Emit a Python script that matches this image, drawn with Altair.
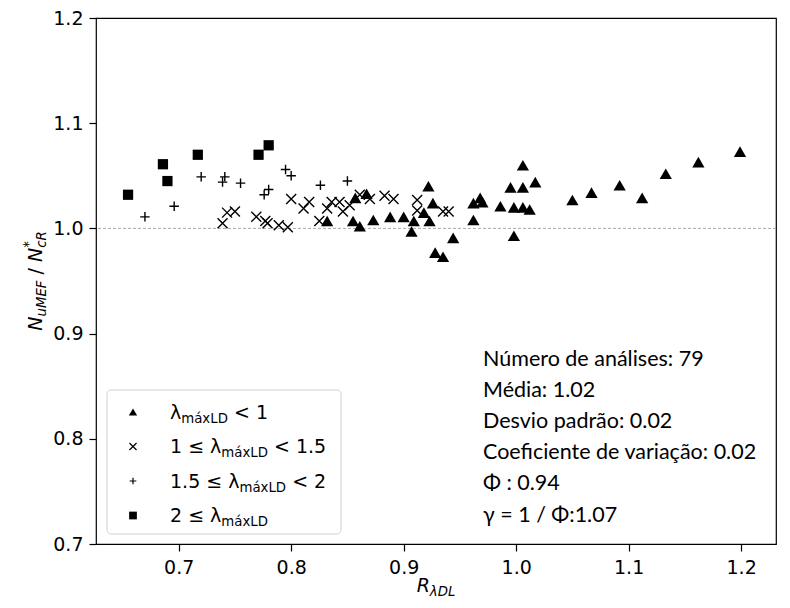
import altair as alt
import pandas as pd

# ---------------- data ----------------
tri_x = [0.832, 0.855, 0.861, 0.857, 0.867, 0.873, 0.888, 0.900, 0.909, 0.907, 0.918, 0.922,
         0.926, 0.923, 0.928, 0.935, 0.944, 0.962, 0.962, 0.968, 0.970, 0.986, 0.995, 0.998,
         0.998, 1.006, 1.006, 1.006, 1.012, 1.017, 1.050, 1.067, 1.092, 1.112, 1.133, 1.162, 1.199]
tri_y = [1.007, 1.007, 1.002, 1.029, 1.033, 1.008, 1.011, 1.011, 1.007, 0.997, 1.015, 1.040,
         1.024, 1.007, 0.977, 0.973, 0.991, 1.008, 1.024, 1.029, 1.025, 1.021, 1.039, 1.020,
         0.993, 1.060, 1.039, 1.020, 1.018, 1.044, 1.027, 1.034, 1.041, 1.029, 1.052, 1.063, 1.073]

crs_x = [0.739, 0.743, 0.750, 0.769, 0.777, 0.779, 0.789, 0.797, 0.800, 0.811, 0.816, 0.825,
         0.832, 0.836, 0.843, 0.846, 0.852, 0.861, 0.870, 0.883, 0.891, 0.912, 0.912, 0.935, 0.940]
crs_y = [1.005, 1.015, 1.016, 1.011, 1.007, 1.005, 1.003, 1.001, 1.028, 1.019, 1.025, 1.007,
         1.019, 1.025, 1.025, 1.016, 1.022, 1.032, 1.028, 1.031, 1.028, 1.027, 1.017, 1.016, 1.016]

pls_x = [0.670, 0.696, 0.720, 0.739, 0.741, 0.755, 0.776, 0.780, 0.795, 0.800, 0.826, 0.850]
pls_y = [1.011, 1.021, 1.049, 1.044, 1.049, 1.043, 1.032, 1.037, 1.056, 1.050, 1.041, 1.045]

sq_x = [0.655, 0.686, 0.690, 0.717, 0.771, 0.780]
sq_y = [1.032, 1.061, 1.045, 1.070, 1.070, 1.079]

x_ticks = [0.7, 0.8, 0.9, 1.0, 1.1, 1.2]
y_ticks = [0.7, 0.8, 0.9, 1.0, 1.1, 1.2]
ref_line = [1.0]

legend_rows = [
    [("λ", "m"), ("máxLD", "s"), (" < 1", "m")],
    [("1 ≤ λ", "m"), ("máxLD", "s"), (" < 1.5", "m")],
    [("1.5 ≤ λ", "m"), ("máxLD", "s"), (" < 2", "m")],
    [("2 ≤ λ", "m"), ("máxLD", "s")],
]
stats_lines = [
    "Número de análises: 79",
    "Média: 1.02",
    "Desvio padrão: 0.02",
    "Coeficiente de variação: 0.02",
    "Φ : 0.94",
    "γ = 1 / Φ:1.07",
]

# ---------------- layout ----------------
W, H = 680, 526
PL, PT = 96, 18
XDOM = [0.6265, 1.231]
YDOM = [0.7, 1.2]
FONT = "DejaVu Sans"
FS = 19
FSS = 13.3

CROSS = "M-1,-1L1,1M-1,1L1,-1"
PLUS = "M-1,0L1,0M0,-1L0,1"

# DejaVu Sans advance widths (em)
CW = {"0": .636, "1": .636, "2": .636, "5": .636, ".": .318, " ": .318, "<": .838, "≤": .838,
      "λ": .592, "m": .974, "á": .613, "x": .592, "L": .557, "D": .770, "N": .748, "u": .634,
      "M": .863, "E": .632, "F": .575, "/": .337, "c": .550, "R": .695}


def tw(s, size):
    return sum(CW.get(ch, .6) for ch in s) * size


one = pd.DataFrame({"a": [0]})
xs = alt.Scale(domain=XDOM, nice=False, zero=False)
ys = alt.Scale(domain=YDOM, nice=False, zero=False)
ax_common = dict(title=None, grid=False, domain=False, tickSize=7, tickColor="black",
                 tickWidth=1.2, labelFont=FONT, labelFontSize=FS, labelColor="black")
xaxis = alt.Axis(values=x_ticks, format=".1f", labelPadding=7, **ax_common)
yaxis = alt.Axis(values=y_ticks, format=".1f", labelPadding=6, **ax_common)


def pts(xv, yv, **mk):
    df = pd.DataFrame({"x": xv, "y": yv})
    return alt.Chart(df).mark_point(opacity=1, **mk).encode(
        x=alt.X("x:Q", scale=xs, axis=xaxis),
        y=alt.Y("y:Q", scale=ys, axis=yaxis),
    )


layers = []
layers.append(
    alt.Chart(pd.DataFrame({"y": ref_line})).mark_rule(
        color="#a8a8a8", strokeDash=[3, 2], strokeWidth=1
    ).encode(y=alt.Y("y:Q", scale=ys, axis=yaxis))
)
layers.append(pts(tri_x, tri_y, shape="triangle-up", filled=True, color="black", size=150))
layers.append(pts(crs_x, crs_y, shape=CROSS, filled=False, color="black", strokeWidth=1.4, size=100))
layers.append(pts(pls_x, pls_y, shape=PLUS, filled=False, color="black", strokeWidth=1.4, size=90))
layers.append(pts(sq_x, sq_y, shape="square", filled=True, color="black", size=105))


def txt(s, x, y, size=FS, font=FONT, **kw):
    return alt.Chart(one).mark_text(text=s, font=font, fontSize=size, color="black", **kw).encode(
        x=alt.value(x), y=alt.value(y)
    )


def place(s, x, y, size, **kw):
    """Place a text piece; leading spaces become an x offset (SVG collapses them)."""
    lead = len(s) - len(s.lstrip(" "))
    x0 = x + lead * CW[" "] * size
    core = s.strip(" ")
    if core:
        layers.append(txt(core, x0, y, size, align="left", baseline="alphabetic", **kw))
    return x + tw(s, size)


# ---------------- legend ----------------
bx0, bx1, by0, by1 = 107 - PL, 341 - PL, 390 - PT, 534 - PT
layers.append(
    alt.Chart(one).mark_rect(fill="white", stroke="#cccccc", strokeWidth=1, cornerRadius=4,
                             opacity=0.9).encode(
        x=alt.value(bx0), x2=alt.value(bx1), y=alt.value(by0), y2=alt.value(by1)
    )
)
row_y = [412, 446.5, 481, 515.5]
sym_x = 133 - PL
sym_specs = [
    dict(shape="triangle-up", filled=True, color="black", size=70),
    dict(shape=CROSS, filled=False, color="black", strokeWidth=1.2, size=50),
    dict(shape=PLUS, filled=False, color="black", strokeWidth=1.2, size=45),
    dict(shape="square", filled=True, color="black", size=60),
]
for i, ry in enumerate(row_y):
    cy = ry - PT
    layers.append(alt.Chart(one).mark_point(opacity=1, **sym_specs[i]).encode(
        x=alt.value(sym_x), y=alt.value(cy)))
    cx = 170 - PL
    base = cy + 6.5
    for piece, kind in legend_rows[i]:
        if kind == "m":
            cx = place(piece, cx, base, FS)
        else:
            cx = place(piece, cx, base + 4, FSS)

# ---------------- stats text ----------------
for i, line in enumerate(stats_lines):
    layers.append(txt(line, 483 - PL, 366 - PT + i * 31.1, 21.5, font="Lato",
                      align="left", baseline="alphabetic"))

# ---------------- x title: R_λDL ----------------
xt_w = tw("R", FS) + tw("λDL", FSS)
cx = (W / 2) - xt_w / 2
xb = 592 - PT
layers.append(txt("R", cx, xb, FS, fontStyle="italic", align="left", baseline="alphabetic"))
cx += tw("R", FS)
layers.append(txt("λDL", cx, xb + 4, FSS, fontStyle="italic", align="left", baseline="alphabetic"))

# ---------------- y title: N_uMEF / N*_cR (rotated) ----------------
yt_pieces = [("N", FS, 0, "italic"), ("uMEF", FSS, 4, "italic"), ("/", FS, 0, "normal"),
             ("N", FS, 0, "italic"), ("cR", FSS, 4, "italic")]
gap = CW[" "] * FS
total = sum(tw(p, s) for p, s, _, _ in yt_pieces) + 2 * gap
ty = H / 2 + total / 2
bxl = 42 - PL
for p, s, sh, st in yt_pieces:
    if p == "/":
        ty -= gap
    if p == "cR":
        layers.append(txt("*", bxl - 9, ty, FSS, angle=270, fontStyle="italic",
                          align="left", baseline="alphabetic"))
    layers.append(txt(p, bxl + sh, ty, s, angle=270, fontStyle=st,
                      align="left", baseline="alphabetic"))
    ty -= tw(p, s)
    if p == "/":
        ty -= gap

chart = alt.layer(*layers).properties(
    width=W, height=H,
    autosize=alt.AutoSizeParams(type="none"),
    padding={"left": PL, "top": PT, "right": 790 - PL - W, "bottom": 608 - PT - H},
    background="white",
).configure_view(stroke="black", strokeWidth=1.2)

chart.save("out.html", embed_options={"renderer": "svg", "actions": False})
